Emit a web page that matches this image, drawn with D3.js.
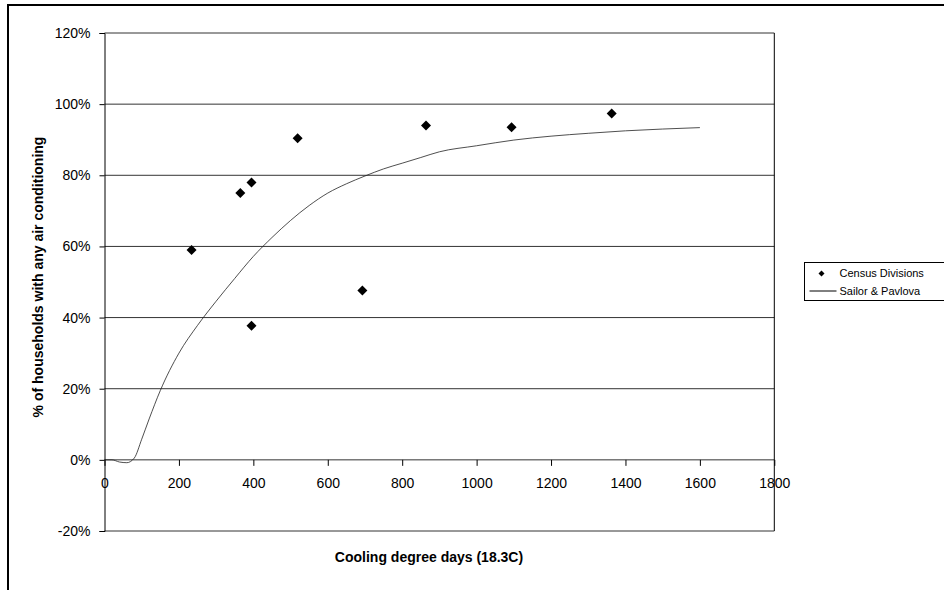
<!DOCTYPE html>
<html>
<head>
<meta charset="utf-8">
<script src="https://cdn.jsdelivr.net/npm/d3@7"></script>
<style>
  body { margin: 0; background: #fff; }
  svg { display: block; font-family: "Liberation Sans", Arial, sans-serif; }
</style>
</head>
<body>
<script>
// Census division points (cooling degree days, % with AC)
var censusCdd = [234, 365, 395, 395, 519, 693, 864, 1094, 1363];
var censusPct = [59, 75, 78, 37.7, 90.4, 47.6, 94, 93.5, 97.4];

// Sailor & Pavlova curve
var curveCdd = [0, 20, 40, 60, 80, 100, 120, 150, 200, 250, 300, 350, 400, 450, 500,
  550, 600, 650, 700, 750, 800, 850, 900, 1000, 1100, 1200, 1300, 1400, 1500, 1600];
var curvePct = [0, 0, -0.6, -0.8, 0.5, 5.8, 11.5, 19.5, 30, 37.8, 44.6, 51, 57.2, 62.5, 67.3,
  71.5, 75, 77.6, 79.8, 81.8, 83.4, 85, 86.6, 88.3, 89.9, 91, 91.8, 92.5, 93, 93.4];

var xTicks = [0, 200, 400, 600, 800, 1000, 1200, 1400, 1600, 1800];
var yTicks = [-20, 0, 20, 40, 60, 80, 100, 120];

var seriesNames = ["Census Divisions", "Sailor & Pavlova"];

var width = 944, height = 590;

var svg = d3
  .select("body")
  .append("svg")
  .attr("width", width)
  .attr("height", height);

// outer chart frame (runs off the right and bottom edge)
svg
  .append("rect")
  .attr("x", 8)
  .attr("y", 5)
  .attr("width", 1000)
  .attr("height", 1000)
  .attr("fill", "none")
  .attr("stroke", "#000")
  .attr("stroke-width", 2);

var x = d3.scaleLinear().domain([0, 1800]).range([104.5, 774.3]);
var y = d3.scaleLinear().domain([-20, 120]).range([531, 33]);

// gridlines
svg
  .append("g")
  .selectAll("line")
  .data(yTicks)
  .enter()
  .append("line")
  .attr("x1", x(0))
  .attr("x2", x(1800))
  .attr("y1", function(d) { return y(d); })
  .attr("y2", function(d) { return y(d); })
  .attr("stroke", "#333")
  .attr("stroke-width", 1);

// right border of plot
svg
  .append("line")
  .attr("x1", x(1800))
  .attr("x2", x(1800))
  .attr("y1", y(120))
  .attr("y2", y(-20))
  .attr("stroke", "#000");

// y axis
var yAxis = svg
  .append("g")
  .attr("transform", "translate(" + x(0) + ",0)")
  .call(
    d3.axisLeft(y)
      .tickValues(yTicks)
      .tickSizeOuter(0)
      .tickSize(5)
      .tickPadding(9)
      .tickFormat(function(d) { return d + "%"; })
  );
yAxis.select(".domain").attr("stroke", "#000");
yAxis.selectAll("line").attr("stroke", "#000");
yAxis.selectAll("text")
  .attr("font-size", 14)
  .attr("font-family", "Liberation Sans, Arial, sans-serif")
  .attr("fill", "#000");

// x axis sits on the 0% line
var xAxis = svg
  .append("g")
  .attr("transform", "translate(0," + y(0) + ")")
  .call(
    d3.axisBottom(x)
      .tickValues(xTicks)
      .tickSizeOuter(0)
      .tickSize(6)
      .tickPadding(12)
      .tickFormat(d3.format("d"))
  );
xAxis.select(".domain").remove();
xAxis.selectAll("line").attr("stroke", "#000");
xAxis.selectAll("text")
  .attr("font-size", 14)
  .attr("font-family", "Liberation Sans, Arial, sans-serif")
  .attr("fill", "#000");

// curve
var curveData = curveCdd.map(function(d, i) { return [d, curvePct[i]]; });
var line = d3
  .line()
  .x(function(d) { return x(d[0]); })
  .y(function(d) { return y(d[1]); })
  .curve(d3.curveMonotoneX);

svg
  .append("path")
  .datum(curveData)
  .attr("d", line)
  .attr("fill", "none")
  .attr("stroke", "#222")
  .attr("stroke-width", 0.8);

// census points as diamonds
var diamond = d3.symbol().type(d3.symbolSquare).size(50);
svg
  .append("g")
  .selectAll("path")
  .data(censusCdd)
  .enter()
  .append("path")
  .attr("d", diamond)
  .attr("transform", function(d, i) {
    return "translate(" + x(d) + "," + y(censusPct[i]) + ") rotate(45)";
  })
  .attr("fill", "#000");

// axis titles
svg
  .append("text")
  .attr("x", 429)
  .attr("y", 562)
  .attr("text-anchor", "middle")
  .attr("font-size", 14)
  .attr("font-weight", "bold")
  .text("Cooling degree days (18.3C)");

svg
  .append("text")
  .attr("transform", "translate(43," + 277 + ") rotate(-90)")
  .attr("text-anchor", "middle")
  .attr("font-size", 14)
  .attr("font-weight", "bold")
  .text("% of households with any air conditioning");

// legend
var legend = svg.append("g").attr("transform", "translate(804.5,262.5)");
legend
  .append("rect")
  .attr("width", 140)
  .attr("height", 38)
  .attr("fill", "#fff")
  .attr("stroke", "#000");

legend
  .append("path")
  .attr("d", d3.symbol().type(d3.symbolSquare).size(18))
  .attr("transform", "translate(17,11) rotate(45)")
  .attr("fill", "#000");

legend
  .append("line")
  .attr("x1", 5)
  .attr("x2", 32)
  .attr("y1", 28.5)
  .attr("y2", 28.5)
  .attr("stroke", "#000");

legend
  .selectAll("text")
  .data(seriesNames)
  .enter()
  .append("text")
  .attr("x", 35)
  .attr("y", function(d, i) { return 14.5 + i * 18; })
  .attr("font-size", 11)
  .text(function(d) { return d; });
</script>
</body>
</html>
